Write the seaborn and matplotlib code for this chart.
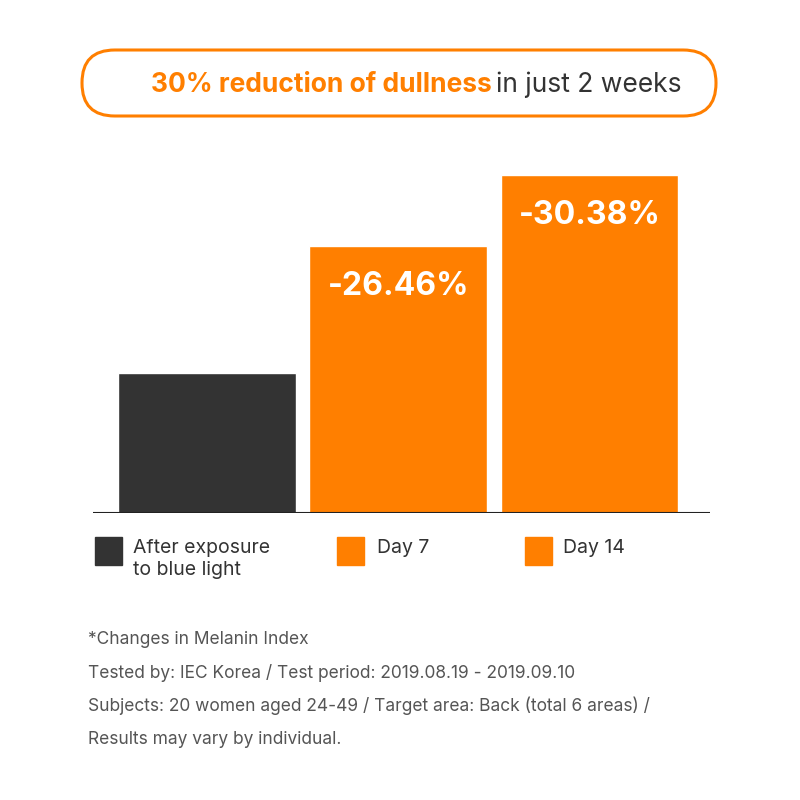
import matplotlib
matplotlib.use("Agg")
import matplotlib.pyplot as plt
from matplotlib.patches import FancyBboxPatch, Rectangle
import seaborn as sns
import pandas as pd

categories = ["After exposure\nto blue light", "Day 7", "Day 14"]
values = [140, 267, 338]
bar_labels = ["", "-26.46%", "-30.38%"]
colors = ["#333333", "#FF7F00", "#FF7F00"]
notes = [
    "*Changes in Melanin Index",
    "Tested by: IEC Korea / Test period: 2019.08.19 - 2019.09.10",
    "Subjects: 20 women aged 24-49 / Target area: Back (total 6 areas) /",
    "Results may vary by individual.",
]

sns.set_style("white")
plt.rcParams['font.family'] = ['Inter', 'DejaVu Sans']

W = 800
fig = plt.figure(figsize=(8, 8), dpi=100)
ax = fig.add_axes([93 / W, 1 - 513 / W, (710 - 93) / W, 363 / W])
df = pd.DataFrame({"cat": categories, "val": values})
sns.barplot(data=df, x="cat", y="val", hue="cat", palette=colors, width=0.93,
            legend=False, ax=ax, saturation=1)
ax.set_xlim(-0.595, 2.63)
ax.set_ylim(0, 363)
ax.axis("off")
ax.axhline(0, color="#222222", lw=1.5)
for i, (v, lab) in enumerate(zip(values, bar_labels)):
    if lab:
        ax.text(i, v - 25, lab, ha="center", va="top", color="white",
                fontsize=23, fontweight="bold")

# title box
box = FancyBboxPatch((82 / W, 1 - 116 / W), 634 / W, 66 / W,
                     boxstyle="round,pad=0,rounding_size=0.041",
                     transform=fig.transFigure, fill=False,
                     edgecolor="#FF7F00", lw=2.2)
fig.patches.append(box)
fig.text(492 / W, 1 - 85 / W, "30% reduction of dullness", ha="right", va="center",
         color="#FF7F00", fontsize=19, fontweight="bold")
fig.text(496 / W, 1 - 85 / W, "in just 2 weeks", ha="left", va="center",
         color="#333333", fontsize=19)

# legend
for (sx, tx), c, lab in zip([(95, 133), (337, 377), (525, 563)], colors, categories):
    fig.patches.append(Rectangle((sx / W, 1 - 565 / W), 27 / W, 28 / W,
                                 transform=fig.transFigure, color=c))
    fig.text(tx / W, 1 - 539 / W, lab, ha="left", va="top", color="#333333",
             fontsize=14, linespacing=1.3)

for k, line in enumerate(notes):
    fig.text(88 / W, 1 - (640 + 33 * k) / W, line, ha="left", va="center",
             color="#555555", fontsize=12.5)

fig.savefig("out.png", dpi=100, facecolor="white")
